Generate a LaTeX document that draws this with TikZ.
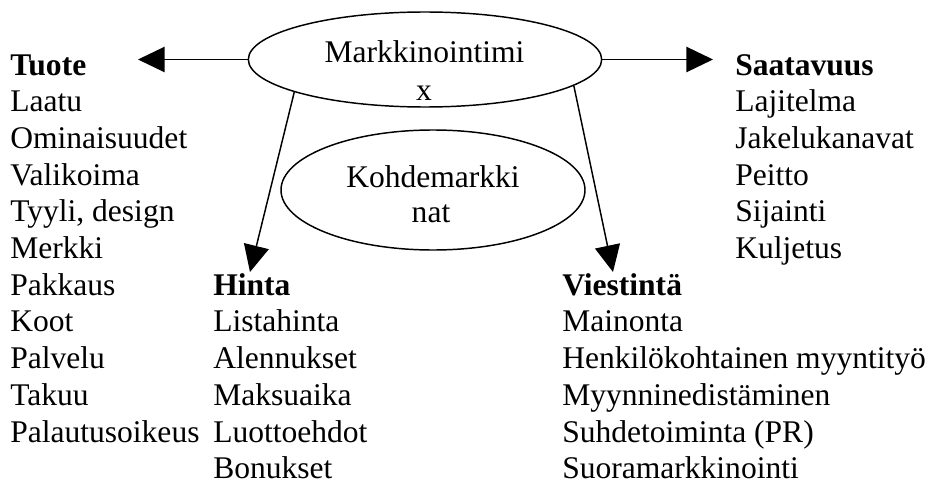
\documentclass[tikz,border=0pt]{standalone}
\usepackage{fontspec}
\setmainfont{Liberation Serif}
\usetikzlibrary{shapes.geometric,arrows.meta}
\begin{document}
\begin{tikzpicture}[x=0.75pt,y=-0.75pt,
  item/.style={anchor=base west,inner sep=0pt,font=\fontsize{23.66}{28}\selectfont},
  head/.style={item,font=\fontsize{23.66}{28}\selectfont\bfseries},
  ctext/.style={inner sep=0pt,anchor=base,font=\fontsize{23.66}{28}\selectfont},
  ell/.style={draw,ellipse,line width=1.1pt,inner sep=0pt},
  conn/.style={line width=1.1pt,-{Triangle[length=20pt,width=19pt]}}]
\useasboundingbox (0,0) rectangle (932,485);

% central ellipses
\node[ell,minimum width=265pt,minimum height=71.25pt] (mix) at (425,59.5) {};
\node[ctext] (mixa) at (424.5,63) {Markkinointimi};
\node[ctext] (mixb) at (424,100) {x};
\node[ell,minimum width=228pt,minimum height=90pt] (target) at (433,190) {};
\node[ctext] (targeta) at (433,187) {Kohdemarkki};
\node[ctext] (targetb) at (431,222) {nat};

% arrow tips
\coordinate (ltip) at (138,59.5);
\coordinate (rtip) at (713,59.5);
\coordinate (htip) at (250,272);
\coordinate (vtip) at (613,272);

\draw[conn] (mix.west) -- (ltip);
\draw[conn] (mix.east) -- (rtip);
\draw[conn] (mix.194) -- (htip);
\draw[conn] (mix.350) -- (vtip);

% Tuote
\node[head] (tuote) at (10,75) {Tuote};
\foreach \t [count=\i] in {Laatu,Ominaisuudet,Valikoima,{Tyyli, design},Merkki,Pakkaus,Koot,Palvelu,Takuu,Palautusoikeus}
  \node[item] (tuote\i) at (10,75+36.7*\i) {\t};

% Saatavuus
\node[head] (saat) at (735,75) {Saatavuus};
\foreach \t [count=\i] in {Lajitelma,Jakelukanavat,Peitto,Sijainti,Kuljetus}
  \node[item] (saat\i) at (735,75+36.7*\i) {\t};

% Hinta
\node[head] (hinta) at (213,295.2) {Hinta};
\foreach \t [count=\i] in {Listahinta,Alennukset,Maksuaika,Luottoehdot,Bonukset}
  \node[item] (hinta\i) at (213,295.2+36.7*\i) {\t};

% Viestinta
\node[head] (viest) at (562,295.2) {Viestintä};
\foreach \t [count=\i] in {Mainonta,Henkilökohtainen myyntityö,Myynninedistäminen,Suhdetoiminta (PR),Suoramarkkinointi}
  \node[item] (viest\i) at (562,295.2+36.7*\i) {\t};
\end{tikzpicture}
\end{document}
